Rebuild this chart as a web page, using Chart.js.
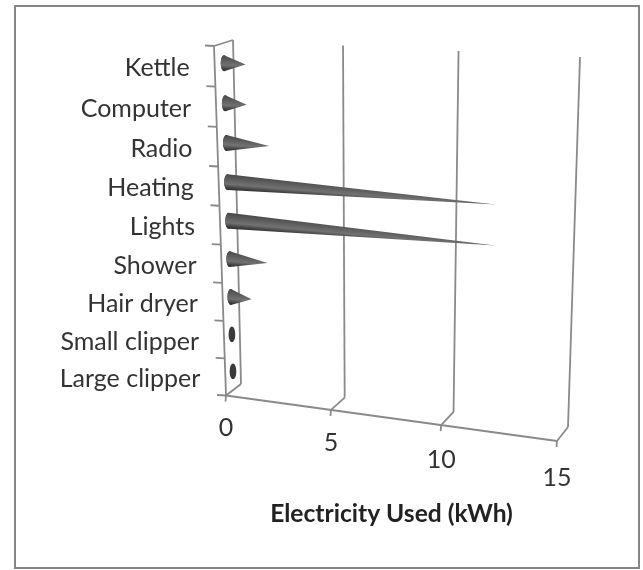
<!DOCTYPE html>
<html lang="en">
<head>
<meta charset="UTF-8">
<title>Electricity Used</title>
<script src="https://cdn.jsdelivr.net/npm/chart.js"></script>
<style>
  body { margin: 0; background: #fff; }
  #wrap { width: 643px; height: 570px; }
  canvas { filter: blur(0.45px); }
</style>
</head>
<body>
<div id="wrap"><canvas id="myChart"></canvas></div>
<script>
var categories = ["Kettle", "Computer", "Radio", "Heating", "Lights", "Shower", "Hair dryer", "Small clipper", "Large clipper"];
var kwh = [1, 1, 2, 12, 12, 1.8, 1, 0.03, 0.03];
var xTicks = [0, 5, 10, 15];
var xTitle = "Electricity Used (kWh)";

var axisGrey = "#8a8a8a";
var textColor = "#333";
var fontName = "Lato";

// corners of the 3d box on screen [x, y]
var front = { t0: [214, 46], b0: [226, 395.5], t1: [563, 65], b1: [557, 441] };
var back = { t0: [233, 40], b0: [241, 384], t1: [580, 57], b1: [568, 427] };

// perspective squeeze along one axis
function squeeze(u, k) {
  return u / (u + k * (1 - u));
}
function mix(a, b, t) {
  return [a[0] + (b[0] - a[0]) * t, a[1] + (b[1] - a[1]) * t];
}
function onPlane(p, u, w) {
  return mix(mix(p.t0, p.t1, u), mix(p.b0, p.b1, u), w);
}
// takes pixels from the chart scales, gives the tilted position. depth 0 = front, 1 = back wall
function project(chart, px, py, depth) {
  var a = chart.chartArea;
  var u = squeeze((px - a.left) / (a.right - a.left), 1.077);
  var w = squeeze((py - a.top) / (a.bottom - a.top), 0.95);
  return mix(onPlane(front, u, w), onPlane(back, u, w), depth);
}
function line(ctx, p, q) {
  ctx.beginPath();
  ctx.moveTo(p[0], p[1]);
  ctx.lineTo(q[0], q[1]);
  ctx.stroke();
}

function drawCone(ctx, base, tip, r) {
  var rx = r * 0.42;
  // end cap, all that is left when the value is close to zero
  ctx.fillStyle = "#3a3a3a";
  ctx.beginPath();
  ctx.ellipse(base[0], base[1], rx, r, 0, 0, Math.PI * 2);
  ctx.fill();
  if (tip[0] - base[0] < rx * 1.5) return;

  // shading runs across the cone, not across the page
  var dx = tip[0] - base[0], dy = tip[1] - base[1];
  var len = Math.sqrt(dx * dx + dy * dy);
  var nx = -dy / len * r, ny = dx / len * r;
  var g = ctx.createLinearGradient(base[0] - nx, base[1] - ny, base[0] + nx, base[1] + ny);
  g.addColorStop(0, "#484848");
  g.addColorStop(0.3, "#5c5c5c");
  g.addColorStop(0.62, "#727272");
  g.addColorStop(0.85, "#424242");
  g.addColorStop(1, "#2e2e2e");
  ctx.fillStyle = g;
  ctx.beginPath();
  ctx.ellipse(base[0], base[1], rx, r, 0, Math.PI / 2, Math.PI * 1.5);
  ctx.lineTo(tip[0], tip[1]);
  ctx.closePath();
  ctx.fill();
}

var box3d = {
  id: "box3d",
  afterDatasetsDraw: function (chart) {
    var ctx = chart.ctx;
    var a = chart.chartArea;
    var sx = chart.scales.x;
    var sy = chart.scales.y;
    var top = a.top, bottom = a.bottom;
    ctx.save();

    // outer frame
    ctx.strokeStyle = "#858585";
    ctx.lineWidth = 2;
    ctx.strokeRect(15, 6, 624, 562);

    ctx.strokeStyle = axisGrey;
    ctx.lineWidth = 1.8;

    // walls and floor
    line(ctx, project(chart, a.left, top, 0), project(chart, a.left, bottom, 0));
    line(ctx, project(chart, a.left, top, 1), project(chart, a.left, bottom, 1));
    line(ctx, project(chart, a.left, top, 0), project(chart, a.left, top, 1));
    line(ctx, project(chart, a.left, bottom, 0), project(chart, a.right, bottom, 0));

    xTicks.forEach(function (v) {
      var px = sx.getPixelForValue(v);
      var f = project(chart, px, bottom, 0);
      var b = project(chart, px, bottom, 1);
      line(ctx, f, b);
      line(ctx, f, [f[0] - 0.5, f[1] + 6]);
      if (v > 0) line(ctx, b, project(chart, px, top, 1));
    });

    // category tick marks
    var band = (bottom - top) / categories.length;
    for (var i = 0; i <= categories.length; i++) {
      var p = project(chart, a.left, top + band * i, 0);
      line(ctx, p, [p[0] - 9, p[1] - 0.5]);
    }

    // cones, sized from the bars of the dataset
    chart.getDatasetMeta(0).data.forEach(function (bar) {
      var b = project(chart, sx.getPixelForValue(0), bar.y, 0.5);
      var t = project(chart, bar.x, bar.y, 0.5);
      drawCone(ctx, b, t, bar.height / 2);
    });

    // labels
    ctx.fillStyle = textColor;
    ctx.font = "25px " + fontName;
    ctx.textBaseline = "middle";
    ctx.textAlign = "right";
    categories.forEach(function (name, idx) {
      var p = project(chart, a.left, sy.getPixelForValue(idx), 0);
      ctx.fillText(name, p[0] - 25, p[1] + 2);
    });
    ctx.textAlign = "center";
    xTicks.forEach(function (v) {
      var f = project(chart, sx.getPixelForValue(v), bottom, 0);
      ctx.fillText(String(v), f[0], f[1] + 32 + v * 0.3);
    });
    ctx.restore();
  }
};

new Chart(document.getElementById("myChart"), {
  type: "bar",
  data: {
    labels: categories,
    datasets: [{
      label: "Electricity Used",
      data: kwh,
      backgroundColor: "rgba(0,0,0,0)",
      categoryPercentage: 1,
      barPercentage: 0.42
    }]
  },
  plugins: [box3d],
  options: {
    indexAxis: "y",
    responsive: true,
    maintainAspectRatio: false,
    animation: false,
    layout: { padding: { left: 226, right: 86, top: 46, bottom: 37 } },
    plugins: { legend: { display: false }, tooltip: { enabled: false } },
    scales: {
      x: {
        min: 0,
        max: 15,
        ticks: { display: false, stepSize: 5 },
        grid: { display: false },
        border: { display: false },
        title: {
          display: true,
          text: xTitle,
          color: "#222",
          font: { family: fontName, size: 24.6, weight: "bold" },
          padding: { top: 104, bottom: 4 }
        }
      },
      y: { display: false }
    }
  }
});
</script>
</body>
</html>
